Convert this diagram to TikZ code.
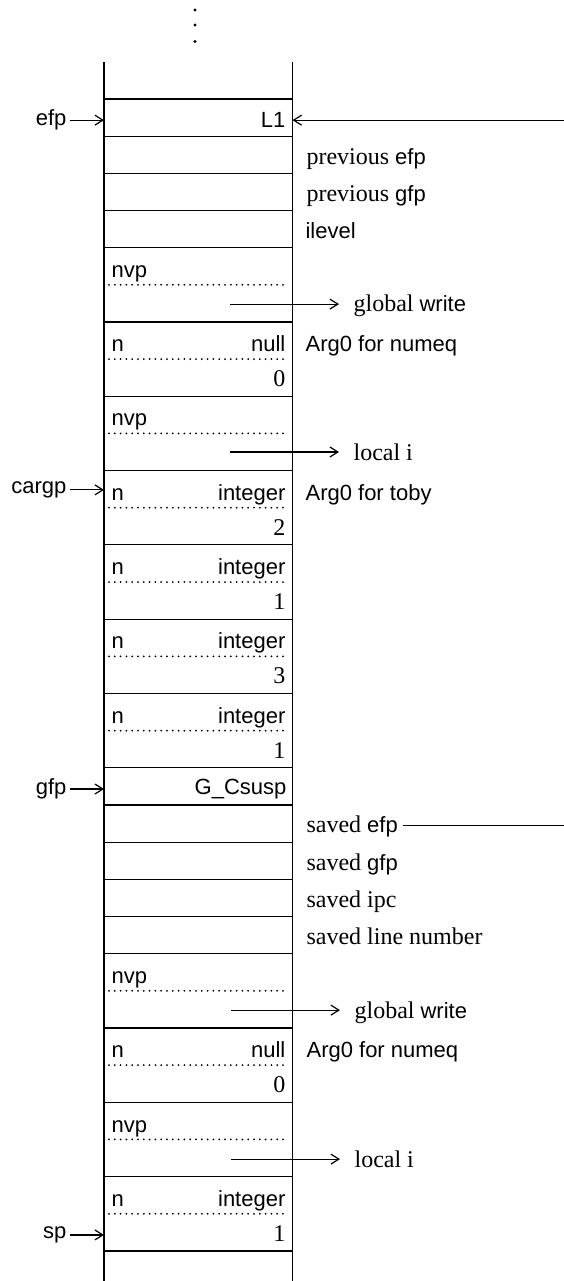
\documentclass[tikz,border=0pt]{standalone}
\usepackage{fontspec}
\setmainfont{Liberation Serif}
\setsansfont{Liberation Sans}
\usetikzlibrary{arrows.meta}
\newcommand{\helv}[1]{{\sffamily\fontsize{11}{13}\selectfont #1}}

\tikzset{
  cell/.style={draw, minimum width=94.25pt, inner sep=0pt, outer sep=0pt, anchor=north west},
  onecell/.style={cell, minimum height=18.58pt},
  twocell/.style={cell, minimum height=37.16pt},
  sanstxt/.style={font=\sffamily\fontsize{11}{13}\selectfont, inner sep=0pt},
  numtxt/.style={font=\fontsize{12}{14}\selectfont, inner sep=0pt},
  rlab/.style={font=\fontsize{12}{14}\selectfont, inner sep=0pt, anchor=base west},
  ptr/.style={sanstxt, anchor=east, inner sep=1.5pt},
  dotline/.style={line width=1pt, line cap=round, dash pattern=on 0pt off 2.9pt},
}

\begin{document}
\begin{tikzpicture}[x=0.5pt, y=-18.58pt, line width=0.6pt,
    >={Straight Barb[length=4pt,width=5pt]}]
  \useasboundingbox (0,-2.664) rectangle (564,31.81);
  % dots above the stack
  \foreach \y in {-2.395,-1.99,-1.547}
    \fill (195,\y) circle (0.8pt);
  % walls of the stack
  \draw (104,-1) -- (104,31.81);
  \draw (292.5,-1) -- (292.5,31.81);

  % one-slot cells
  \foreach \r in {0,1,2,3,18,19,20,21,22}
    \node[onecell] (s\r) at (104,\r) {};
  \node[sanstxt, anchor=base east] (st0) at (286,0.77) {L1};
  \node[sanstxt, anchor=base east] (st18) at (287,18.73) {G\_Csusp};

  % two-slot cells
  \foreach \r/\tl/\tr/\nb in {4/nvp/{}/{}, 6/n/null/0, 8/nvp/{}/{},
      10/n/integer/2, 12/n/integer/1, 14/n/integer/3, 16/n/integer/1,
      23/nvp/{}/{}, 25/n/null/0, 27/nvp/{}/{}, 29/n/integer/1} {
    \node[twocell] (d\r) at (104,\r) {};
    \draw[dotline] ([xshift=2.5pt]d\r.west) -- ([xshift=-3.75pt]d\r.east);
    \node[sanstxt, anchor=base west] (dl\r) at (111,\r+0.8) {\tl};
    \node[sanstxt, anchor=base east] (dr\r) at (286,\r+0.8) {\tr};
    \node[numtxt, anchor=base east] (db\r) at (286,\r+1.74) {\nb};
  }

  % labels on the right
  \node[rlab] (pefp) at (306,1.75) {previous \helv{efp}};
  \node[rlab] (pgfp) at (306,2.75) {previous \helv{gfp}};
  \node[rlab] (ilev) at (305,3.75) {\helv{ilevel}};
  \node[rlab] (arga) at (305,6.8) {\helv{Arg0 for numeq}};
  \node[rlab] (argb) at (305,10.8) {\helv{Arg0 for toby}};
  \node[rlab] (sefp) at (306,19.75) {saved \helv{efp}};
  \node[rlab] (sgfp) at (306,20.75) {saved \helv{gfp}};
  \node[rlab] (sipc) at (306,21.75) {saved ipc};
  \node[rlab] (slin) at (306,22.75) {saved line number};
  \node[rlab] (argc) at (306,25.8) {\helv{Arg0 for numeq}};

  % name pointers
  \node[rlab] (gwa) at (353,5.72) {global \helv{write}};
  \node[rlab] (lia) at (353,9.74) {local i};
  \node[rlab] (gwb) at (354,24.74) {global \helv{write}};
  \node[rlab] (lib) at (354,28.75) {local i};
  \coordinate (gwas) at (230,5.52);
  \coordinate (lias) at (230,9.5);
  \coordinate (gwbs) at (231,24.52);
  \coordinate (libs) at (231,28.53);
  \foreach \s/\t in {gwas/gwa, lias/lia, gwbs/gwb, libs/lib}
    \draw[->, shorten >=7pt] (\s) -- (\t.west |- \s);

  % frame pointers on the left
  \node[ptr] (efp) at (70,0.57) {efp};
  \node[ptr] (cargp) at (70,10.52) {cargp};
  \node[ptr] (gfp) at (70,18.57) {gfp};
  \node[ptr] (sp) at (70,30.57) {sp};
  \draw[->] (efp.east) -- (efp.east -| s0.west);
  \draw[->] (cargp.east) -- (cargp.east -| d10.west);
  \draw[->] (gfp.east) -- (gfp.east -| s18.west);
  \draw[->] (sp.east) -- (sp.east -| d29.west);

  % link from saved efp back to L1
  \coordinate (lin) at (564,0.57);
  \coordinate (lout) at (564,19.56);
  \draw[->] (lin) -- (lin -| s0.east);
  \draw[shorten <=2.5pt] (sefp.east |- lout) -- (lout);
\end{tikzpicture}
\end{document}
